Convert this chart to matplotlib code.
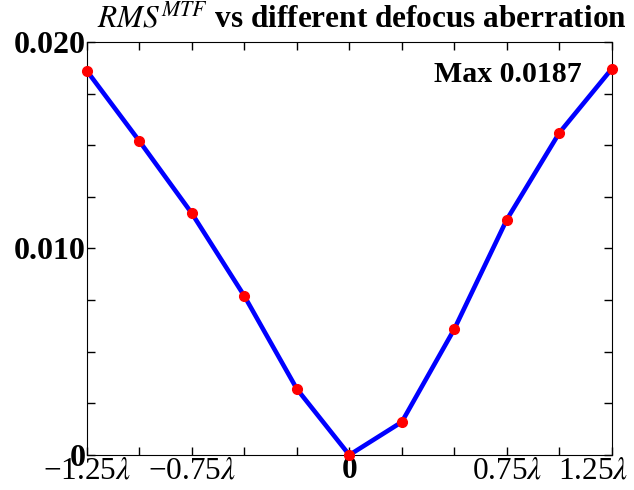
import matplotlib
matplotlib.use("Agg")
import matplotlib.pyplot as plt
import numpy as np

plt.rcParams['font.family'] = ['Liberation Serif', 'DejaVu Serif']
plt.rcParams['mathtext.fontset'] = 'stix'

# defocus in units of lambda, RMS of MTF difference
defocus = [-1.25, -1.0, -0.75, -0.5, -0.25, 0.0, 0.25, 0.5, 0.75, 1.0, 1.25]
rms = [0.0186, 0.0152, 0.0117, 0.0077, 0.0032, 0.0, 0.0016, 0.0061, 0.0114, 0.0156, 0.0187]

xtick_pos = [-1.25, -0.75, 0, 0.75, 1.25]
xtick_labels = ["\u22121.25$\\lambda$", "\u22120.75$\\lambda$", "0", "0.75$\\lambda$", "1.25$\\lambda$"]
ytick_pos = [0, 0.010, 0.020]
ytick_labels = ["0", "0.010", "0.020"]

fig = plt.figure(figsize=(6.34, 4.90), dpi=100)
ax = fig.add_axes([0.137, 0.0714, 0.828, 0.843])

ax.plot(defocus, rms, color="blue", linewidth=3.3, zorder=2)
ax.plot(defocus, rms, "o", color="red", markersize=7, zorder=3, clip_on=False)

ax.set_xlim(-1.25, 1.25)
ax.set_ylim(0, 0.020)

ax.set_xticks(np.arange(-1.25, 1.26, 0.25), minor=True)
ax.set_xticks(xtick_pos)
# last label drawn by hand further down so it can sit left of its tick
ax.set_xticklabels(xtick_labels[:-1] + [""], fontsize=22.5)
ax.get_xticklabels()[2].set_fontweight("bold")
ax.annotate(xtick_labels[-1], xy=(xtick_pos[-1], 0), xycoords=("data", "axes fraction"),
            xytext=(12, -1), textcoords="offset points", ha="right", va="top",
            fontsize=22.5)

ax.set_yticks(np.arange(0, 0.0201, 0.0025), minor=True)
ax.set_yticks(ytick_pos)
ax.set_yticklabels(ytick_labels, fontsize=23, fontweight="bold")

ax.tick_params(which="both", direction="in", top=True, right=True,
               length=6, width=1, pad=1)

ax.text(0.943, 0.92, "Max 0.0187", transform=ax.transAxes, ha="right", va="center",
        fontsize=21.5, fontweight="bold")

fig.text(0.57, 0.962, "$\\mathit{RMS}^{\\mathit{MTF}}$ vs different defocus aberration",
         ha="center", va="center", fontsize=22.5, fontweight="bold")

fig.savefig("out.png", dpi=100)
